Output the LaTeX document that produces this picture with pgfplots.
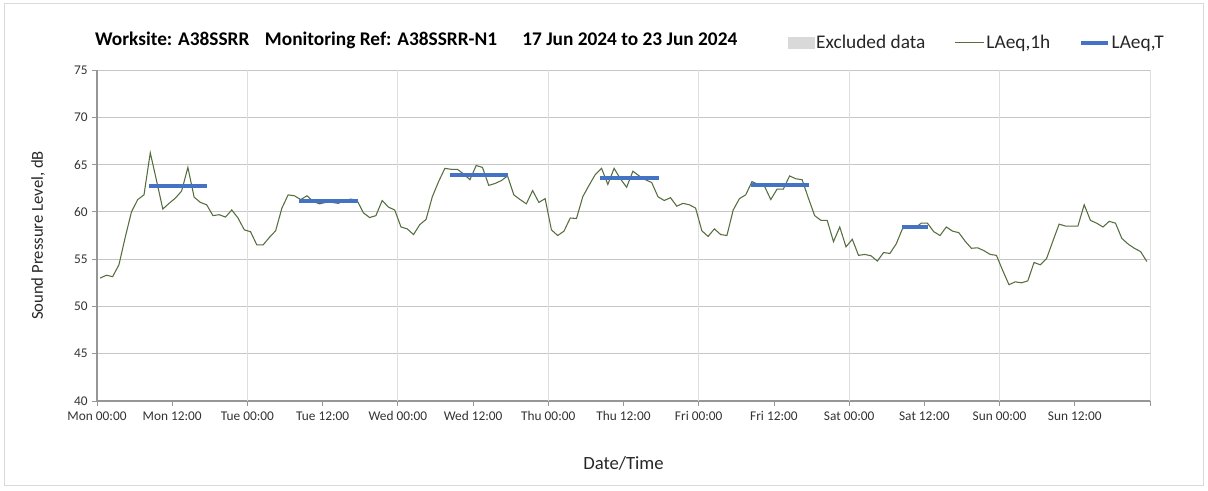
\documentclass[border=0pt]{standalone}
\usepackage{fontspec}
\setmainfont{Carlito}
\usepackage{pgfplots}
\pgfplotsset{compat=1.18}
\usepackage{pgfplotstable}

\definecolor{lgreen}{RGB}{86,110,62}
\definecolor{tblue}{RGB}{68,114,196}
\definecolor{gridh}{RGB}{198,198,198}
\definecolor{gridv}{RGB}{222,222,222}
\definecolor{axgray}{RGB}{150,150,150}
\definecolor{excl}{RGB}{217,217,217}

\pgfplotsset{
  legline/.style={legend image code/.code={\draw[##1] (0pt,0pt) -- (#1,0pt);}},
  legbox/.style={legend image code/.code={\fill[excl] (0pt,-4pt) rectangle (19pt,4pt);}},
}

\pgfplotstableread{
h L
0.5 53.0
1.5 53.3
2.5 53.15
3.5 54.4
4.5 57.3
5.5 60.0
6.5 61.3
7.5 61.8
8.5 66.25
9.5 63.3
10.5 60.3
11.5 60.9
12.5 61.45
13.5 62.2
14.5 64.7
15.5 61.55
16.5 61.0
17.5 60.75
18.5 59.6
19.5 59.7
20.5 59.45
21.5 60.2
22.5 59.35
23.5 58.1
24.5 57.9
25.5 56.5
26.5 56.5
27.5 57.3
28.5 58.0
29.5 60.4
30.5 61.8
31.5 61.7
32.5 61.3
33.5 61.7
34.5 61.1
35.5 60.85
36.5 61.0
37.5 61.0
38.5 60.9
39.5 61.2
40.5 61.35
41.5 61.2
42.5 59.9
43.5 59.4
44.5 59.6
45.5 61.2
46.5 60.5
47.5 60.2
48.5 58.4
49.5 58.2
50.5 57.6
51.5 58.65
52.5 59.2
53.5 61.6
54.5 63.2
55.5 64.6
56.5 64.5
57.5 64.5
58.5 64.0
59.5 63.4
60.5 64.9
61.5 64.7
62.5 62.8
63.5 63.0
64.5 63.3
65.5 63.8
66.5 61.8
67.5 61.3
68.5 60.85
69.5 62.25
70.5 61.0
71.5 61.4
72.5 58.1
73.5 57.5
74.5 57.96
75.5 59.35
76.5 59.3
77.5 61.6
78.5 62.8
79.5 63.95
80.5 64.6
81.5 62.9
82.5 64.6
83.5 63.5
84.5 62.6
85.5 64.3
86.5 63.8
87.5 63.4
88.5 63.1
89.5 61.6
90.5 61.2
91.5 61.5
92.5 60.6
93.5 60.9
94.5 60.75
95.5 60.4
96.5 58.0
97.5 57.4
98.5 58.2
99.5 57.6
100.5 57.5
101.5 60.2
102.5 61.4
103.5 61.8
104.5 63.2
105.5 62.9
106.5 62.7
107.5 61.3
108.5 62.4
109.5 62.4
110.5 63.8
111.5 63.5
112.5 63.4
113.5 61.45
114.5 59.6
115.5 59.1
116.5 59.1
117.5 56.85
118.5 58.4
119.5 56.3
120.5 57.1
121.5 55.4
122.5 55.5
123.5 55.35
124.5 54.8
125.5 55.7
126.5 55.6
127.5 56.6
128.5 58.2
129.5 58.4
130.5 58.3
131.5 58.8
132.5 58.8
133.5 57.9
134.5 57.5
135.5 58.4
136.5 57.96
137.5 57.8
138.5 56.9
139.5 56.15
140.5 56.2
141.5 55.9
142.5 55.5
143.5 55.4
144.5 53.8
145.5 52.3
146.5 52.6
147.5 52.5
148.5 52.7
149.5 54.65
150.5 54.4
151.5 55.07
152.5 56.9
153.5 58.7
154.5 58.5
155.5 58.5
156.5 58.5
157.5 60.75
158.5 59.1
159.5 58.8
160.5 58.4
161.5 59.0
162.5 58.8
163.5 57.2
164.5 56.6
165.5 56.15
166.5 55.8
167.5 54.75
}\hourly

\begin{document}
\begin{tikzpicture}
\useasboundingbox (-72.75pt,-66.75pt) rectangle (833.25pt,300.75pt);
\draw[excl, line width=0.6pt] (-69.5pt,-63.5pt) rectangle (830pt,298.5pt);
\begin{axis}[
  at={(0pt,0pt)}, anchor=south west,
  scale only axis, width=789.75pt, height=248.25pt,
  xmin=0, xmax=168, ymin=40, ymax=75,
  axis lines*=left,
  axis line style={axgray, line width=0.8pt},
  tick align=outside,
  major tick length=3.5pt,
  tick style={axgray, line width=0.6pt},
  ytick={40,45,...,75},
  ymajorgrids,
  y grid style={gridh, line width=0.7pt},
  xtick={0,12,...,168},
  xticklabels={Mon 00:00,Mon 12:00,Tue 00:00,Tue 12:00,Wed 00:00,Wed 12:00,Thu 00:00,Thu 12:00,Fri 00:00,Fri 12:00,Sat 00:00,Sat 12:00,Sun 00:00,Sun 12:00,{}},
  extra x ticks={24,48,...,168},
  extra x tick labels={},
  extra x tick style={grid=major, major tick length=0pt},
  x grid style={gridv, line width=0.7pt},
  /pgf/number format/assume math mode=true,
  ticklabel style={font=\fontsize{10}{12}\selectfont, text=black!80},
  xticklabel style={yshift=-1pt},
  xlabel={Date/Time},
  ylabel={Sound Pressure Level, dB},
  label style={text=black!85},
  xlabel style={font=\fontsize{14}{16}\selectfont, yshift=-16pt},
  ylabel style={font=\fontsize{12.5}{14}\selectfont, yshift=15pt},
  legend style={at={(1.019,1.082)}, anchor=east, draw=none, fill=none,
    font=\fontsize{14.5}{16}\selectfont, text=black!85,
    legend columns=-1,
    nodes={inner xsep=1.5pt},
    /tikz/every even column/.append style={column sep=20pt}},
  legend cell align=left,
  clip=false,
]
\addlegendimage{legbox}
\addlegendentry{Excluded data}
\addplot[lgreen, line width=0.8pt, legline=22pt] table[x=h, y=L] {\hourly};
\addlegendentry{LAeq,1h}
\addplot[tblue, line width=3pt, legline=20pt] coordinates {(8.3,62.74) (17.6,62.74)};
\addlegendentry{LAeq,T}
\addplot[tblue, line width=3pt, forget plot] coordinates {(32.3,61.17) (41.6,61.17)};
\addplot[tblue, line width=3pt, forget plot] coordinates {(56.3,63.95) (65.6,63.95)};
\addplot[tblue, line width=3pt, forget plot] coordinates {(80.3,63.54) (89.6,63.54)};
\addplot[tblue, line width=3pt, forget plot] coordinates {(104.3,62.84) (113.6,62.84)};
\addplot[tblue, line width=3pt, forget plot] coordinates {(128.5,58.45) (132.6,58.45)};
\node[anchor=west, font=\bfseries\fontsize{14.5}{16}\selectfont, inner sep=0pt] at (rel axis cs:-0.002,1.09)
  {Worksite: A38SSRR\hspace{0.8em}Monitoring Ref: A38SSRR-N1\hspace{1.3em}17 Jun 2024 to 23 Jun 2024};
\end{axis}
\end{tikzpicture}
\end{document}
